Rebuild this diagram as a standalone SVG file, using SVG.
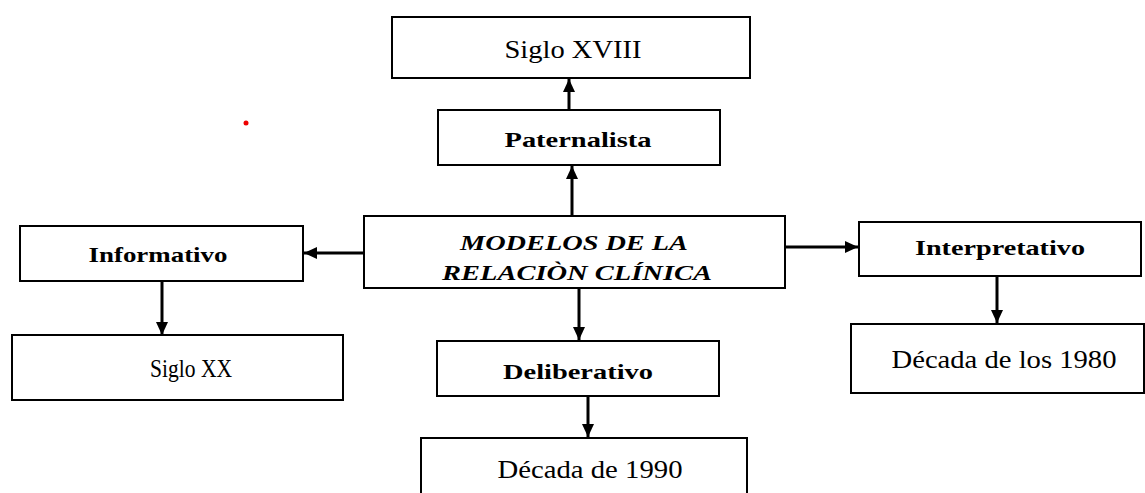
<svg xmlns="http://www.w3.org/2000/svg" width="1145" height="493" viewBox="0 0 1145 493">
<defs>
<style>
.box{fill:#fff;stroke:#000;stroke-width:2}
.t{font-family:"Liberation Serif","Times New Roman",serif;font-size:25px;fill:#000;text-anchor:middle}
.b{font-weight:bold;font-size:22px}
.c{font-weight:bold;font-style:italic;font-size:21px}
.conn line{stroke:#000;stroke-width:3}
</style>
<marker id="ah" markerUnits="userSpaceOnUse" markerWidth="14" markerHeight="14" viewBox="0 0 14 14" refX="13" refY="7" orient="auto">
<path d="M0,1 L13,7 L0,13 Z" fill="#000"/>
</marker>
</defs>
<rect width="1145" height="493" fill="#fff"/>
<g id="siglo-xviii"><rect class="box" x="392" y="17" width="358" height="61"/><text class="t" x="573" y="58" textLength="137" lengthAdjust="spacingAndGlyphs">Siglo XVIII</text></g>
<g id="paternalista"><rect class="box" x="438" y="110" width="282" height="55"/><text class="t b" x="578" y="147" textLength="147" lengthAdjust="spacingAndGlyphs">Paternalista</text></g>
<g id="central"><rect class="box" x="364" y="216" width="421" height="72"/><text class="t c" x="574" y="250" textLength="228" lengthAdjust="spacingAndGlyphs">MODELOS DE LA</text><text class="t c" x="577" y="280" textLength="270" lengthAdjust="spacingAndGlyphs">RELACIÒN CLÍNICA</text></g>
<g id="informativo"><rect class="box" x="20" y="226" width="283" height="55"/><text class="t b" x="158" y="262" textLength="139" lengthAdjust="spacingAndGlyphs">Informativo</text></g>
<g id="siglo-xx"><rect class="box" x="12" y="335" width="331" height="65"/><text class="t" x="191" y="377" textLength="82" lengthAdjust="spacingAndGlyphs">Siglo XX</text></g>
<g id="deliberativo"><rect class="box" x="437" y="341" width="282" height="55"/><text class="t b" x="578" y="379" textLength="150" lengthAdjust="spacingAndGlyphs">Deliberativo</text></g>
<g id="decada-1990"><rect class="box" x="421" y="438" width="326" height="70"/><text class="t" x="590" y="478" textLength="185" lengthAdjust="spacingAndGlyphs">Década de 1990</text></g>
<g id="interpretativo"><rect class="box" x="859" y="222" width="282" height="54"/><text class="t b" x="1000" y="255" textLength="170" lengthAdjust="spacingAndGlyphs">Interpretativo</text></g>
<g id="decada-1980"><rect class="box" x="851" y="324" width="293" height="69"/><text class="t" x="1004" y="368" textLength="225" lengthAdjust="spacingAndGlyphs">Década de los 1980</text></g>
<g class="conn" id="connectors">
<line x1="572" y1="215" x2="572" y2="166" marker-end="url(#ah)"/>
<line x1="569" y1="110" x2="569" y2="79" marker-end="url(#ah)"/>
<line x1="364" y1="253" x2="304" y2="253" marker-end="url(#ah)"/>
<line x1="162" y1="281" x2="162" y2="335" marker-end="url(#ah)"/>
<line x1="785" y1="247" x2="858" y2="247" marker-end="url(#ah)"/>
<line x1="997" y1="276" x2="997" y2="323" marker-end="url(#ah)"/>
<line x1="579" y1="288" x2="579" y2="340" marker-end="url(#ah)"/>
<line x1="588" y1="396" x2="588" y2="437" marker-end="url(#ah)"/>
</g>
<circle cx="246" cy="123" r="2.5" fill="#e00"/>
</svg>
